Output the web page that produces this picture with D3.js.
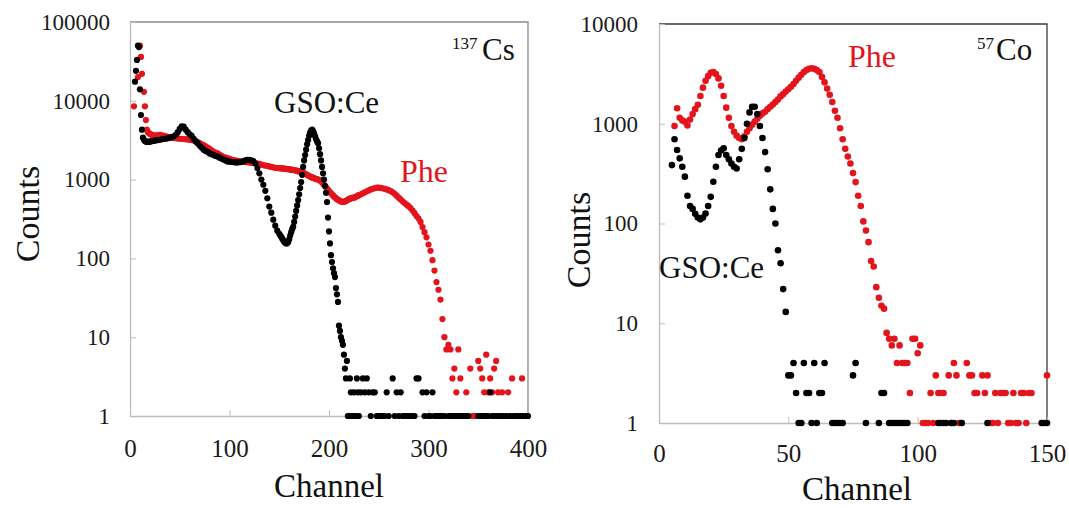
<!DOCTYPE html>
<html><head><meta charset="utf-8">
<script src="https://cdn.jsdelivr.net/npm/d3@7"></script>
<style>body{margin:0;background:#fff}svg{display:block}</style>
</head><body><svg width="1069" height="508"></svg>
<script>
// ---------- Left panel: 137Cs ----------
const csChannels = [4,5,6,7,8,9,10,11,12,13,14,15,16,17,18,19,20,21,
22,24,26,28,30,32,34,36,38,40,42,44,46,48,50,52,54,56,58,60,62,64,66,68,70,72,74,76,78,80,82,84,86,88,90,92,94,96,98,100,102,104,106,108,110,112,114,116,118,120,122,124,126,128,130,132,134,136,138,140,142,144,146,148,
150,151,152,153,154,155,156,157,158,159,160,161,162,163,164,165,166,167,168,169,170,171,172,173,174,175,176,177,178,179,180,181,182,183,184,185,186,187,188,189,190,191,192,193,194,195,196,197,198,199,200,201,202,203,204,205,206,207,208,209,210,211,212,213,214,215,216,217,218,219,220,221,222,223,224,225,226,227,228,229,230,
232,234,236,238,240,242,244,246,248,250,252,254,256,258,260,262,264,266,268,270,272,274,276,278,280,282,284,286,288,290,292,294,296,298,300,302,304,306,308,310,312,314,316,318,320,322,324,326,328,330,332,334,336,338,340,342,344,346,348,350,352,354,356,358,360,362,364,366,368,370,372,374,376,378,380,382,384,386,388,390,392,394,396,398,400];
const csGso = [0,17500,24000,33000,50000,48000,14000,6600,4300,3400,3200,3100,3050,3000,3000,3000,3050,3050,
3100,3100,3150,3170,3200,3250,3300,3300,3350,3400,3450,3550,3700,4000,4400,4750,4700,4300,4000,3750,3600,3300,3050,2900,2700,2550,2400,2300,2250,2150,2100,2050,2000,1960,1900,1850,1800,1750,1700,1690,1680,1670,1650,1650,1660,1680,1700,1750,1780,1780,1760,1720,1600,1400,1200,1000,860,720,580,455,380,310,260,225,
205,196,188,178,170,163,158,155,156,162,175,195,215,235,252,290,340,400,470,550,650,780,930,1150,1450,1750,2050,2400,2800,3170,3600,3950,4200,4300,4150,3850,3550,3250,3050,2900,2500,2100,1750,1450,1200,1000,830,680,520,330,220,155,110,90,75,65,58,42,35,28,14,12,10,9,8,6,4,3,5,1,1,3,2,1,1,2,1,1,3,2,1,
2,3,2,3,2,1,2,2,1,1,1,1,1,2,1,0,3,1,2,1,2,1,1,1,1,1,1,1,3,3,0,2,1,2,1,1,2,1,1,1,1,1,1,0,1,1,1,1,1,1,1,1,1,1,1,0,0,0,0,1,1,1,1,1,1,2,1,1,1,1,1,1,0,1,0,1,0,1,1,1,1,1,1,1,1];
const csPhe = [8500,0,0,0,20000,0,50000,36000,22000,0,13000,8500,5700,4300,4000,3900,3800,3750,
3700,3650,3650,3650,3700,3650,3600,3550,3500,3450,3400,3400,3350,3330,3300,3300,3280,3250,3230,3200,3170,3150,3100,3000,2900,2800,2750,2650,2550,2450,2350,2250,2200,2150,2080,2000,1950,1900,1870,1830,1800,1770,1750,1730,1710,1700,1690,1680,1660,1650,1640,1630,1620,1600,1580,1550,1530,1510,1490,1470,1450,1430,1410,1400,
1400,1395,1390,1385,1380,1375,1370,1365,1360,1355,1350,1345,1340,1330,1325,1320,1310,1300,1290,1280,1270,1260,1245,1230,1215,1200,1185,1170,1150,1130,1110,1095,1080,1065,1050,1040,1030,1020,1010,1000,990,975,950,920,890,860,830,800,770,740,715,690,670,650,630,610,595,580,565,555,545,535,528,522,520,522,528,535,545,555,565,572,578,582,585,590,598,606,615,625,635,
650,670,690,710,730,750,765,780,790,790,785,775,765,750,735,715,690,660,625,590,560,530,505,480,460,435,405,375,345,320,290,250,215,185,150,125,95,70,50,40,30,17,10,7,8,7,3,4,2,7,3,0,0,2,0,4,1,1,1,5,4,3,2,6,2,3,2,4,5,2,0,2,1,1,2,1,3,1,0,0,0,3,0,0,0];
const csXTicks = [0,100,200,300,400];
const csYTicks = [1,10,100,1000,10000,100000];

// ---------- Right panel: 57Co ----------
const coChannels = [5,6,7,8,9,10,11,12,13,14,15,16,17,18,19,20,21,22,23,24,25,26,27,28,29,30,31,32,33,34,35,36,37,38,39,40,41,42,43,44,45,46,47,48,49,50,51,52,53,54,55,56,57,58,59,60,61,62,63,64,65,66,67,68,69,70,71,72,73,74,75,76,77,78,79,80,81,82,83,84,85,86,87,88,89,90,91,92,93,94,95,96,97,98,99,100,101,102,103,104,105,106,107,108,109,110,111,112,113,114,115,116,117,118,119,120,121,122,123,124,125,126,127,128,129,130,131,132,133,134,135,136,137,138,139,140,141,142,143,144,145,146,147,148,149,150];
const coGso = [385,700,545,450,370,295,190,150,140,125,115,110,115,126,150,185,262,370,486,540,568,486,440,400,370,356,440,560,720,1000,1300,1480,1480,1250,950,720,520,350,220,140,100,54,40,22,13,3,3,4,2,1,1,4,2,2,1,4,1,2,2,4,0,0,1,1,1,1,1,0,0,0,3,4,0,0,0,1,0,0,0,0,1,2,2,0,1,1,1,1,1,1,1,1,0,0,0,0,0,0,0,0,0,0,0,1,1,1,1,0,1,1,0,0,1,0,0,0,0,0,0,0,0,0,1,0,0,0,0,0,0,0,0,0,0,0,0,0,0,0,0,0,0,0,0,1,1,1,1];
const coPhe = [0,950,1430,1150,1080,1050,960,1100,1250,1400,1550,1900,2300,2700,3000,3250,3300,3150,2850,2400,1900,1450,1150,950,830,760,720,700,750,830,900,980,1050,1120,1200,1270,1320,1400,1480,1560,1650,1750,1880,1980,2100,2220,2350,2500,2700,2900,3100,3300,3450,3550,3600,3550,3450,3300,2950,2600,2250,1950,1650,1350,1150,900,700,560,470,400,320,260,190,150,105,85,65,42,37,23,18,15,14,8,7,6,7,4,6,4,4,4,2,7,7,5,6,1,1,1,2,1,3,2,2,2,0,3,1,4,3,1,1,0,4,3,3,2,2,0,3,2,3,1,1,2,1,2,2,2,1,1,2,1,1,2,2,1,2,2,0,0,0,1,0,3];
const coXTicks = [0,50,100,150];
const coYTicks = [1,10,100,1000,10000];

const RED = "#e3141c", BLACK = "#000";
const FONT = "Liberation Serif, Times New Roman, serif";
const svg = d3.select("svg");

function panel(cfg) {
  const x = d3.scaleLinear().domain(cfg.xDomain).range(cfg.xRange);
  const y = d3.scaleLog().domain(cfg.yDomain).range(cfg.yRange);
  const g = svg.append("g");
  g.append("path")
    .attr("d", `M${cfg.xRange[0]},${cfg.yRange[1]}H${cfg.xRange[1]}V${cfg.yRange[0]}`)
    .attr("fill", "none").attr("stroke", cfg.frame).attr("stroke-width", 1.3);
  const ya = g.append("g").attr("transform", `translate(${cfg.xRange[0]},0)`)
    .call(d3.axisLeft(y).tickValues(cfg.yTicks).tickFormat(d3.format("d"))
      .tickSizeInner(-6).tickSizeOuter(0).tickPadding(cfg.yPad));
  const xa = g.append("g").attr("transform", `translate(0,${cfg.yRange[0]})`)
    .call(d3.axisBottom(x).tickValues(cfg.xTicks).tickFormat(d3.format("d"))
      .tickSizeInner(-6).tickSizeOuter(0).tickPadding(cfg.xPad));
  [ya, xa].forEach(a => {
    a.attr("font-family", FONT);
    a.select(".domain").attr("stroke", "#bdbdbd").attr("stroke-width", 1.3);
    a.selectAll(".tick line").attr("stroke", "#bdbdbd");
    a.selectAll(".tick text").attr("fill", "#1a1a1a").attr("font-family", FONT);
  });
  ya.attr("font-size", 23).selectAll(".tick text").attr("font-size", 23);
  xa.attr("font-size", 25).selectAll(".tick text").attr("font-size", 25);
  const pts = (vals) => cfg.channels.map((c, i) => ({c, v: vals[i]})).filter(d => d.v > 0);
  g.append("g").selectAll("circle").data(pts(cfg.phe)).join("circle")
    .attr("cx", d => x(d.c)).attr("cy", d => y(d.v)).attr("r", cfg.r).attr("fill", RED);
  g.append("g").selectAll("circle").data(pts(cfg.gso)).join("circle")
    .attr("cx", d => x(d.c)).attr("cy", d => y(d.v)).attr("r", cfg.r).attr("fill", BLACK);
}

panel({xDomain:[0,400], xRange:[130,528], yDomain:[1,100000], yRange:[416,22],
  xTicks: csXTicks, yTicks: csYTicks, channels: csChannels, gso: csGso, phe: csPhe,
  frame: "#8a8a8a", yPad: 20, xPad: 23, r: 3.1});
panel({xDomain:[0,150], xRange:[659,1047], yDomain:[1,10000], yRange:[423,24],
  xTicks: coXTicks, yTicks: coYTicks, channels: coChannels, gso: coGso, phe: coPhe,
  frame: "#3a3a3a", yPad: 21, xPad: 21, r: 3.3});

function label(txt, x, y, size, color, anchor, rot) {
  const t = svg.append("text").attr("x", x).attr("y", y).attr("font-size", size)
    .attr("font-family", FONT).attr("fill", color)
    .attr("text-anchor", anchor || "start").text(txt);
  if (rot) t.attr("transform", `rotate(${rot},${x},${y})`);
  return t;
}
label("Counts", 39, 214, 34, "#111", "middle", -90);
label("Channel", 329, 497, 33, "#111", "middle");
label("Counts", 590, 240, 34, "#111", "middle", -90);
label("Channel", 857, 500, 33, "#111", "middle");
label("137", 452, 49, 17, "#111");
label("Cs", 482, 60, 31, "#111");
label("GSO:Ce", 274, 113, 31, "#111");
label("Phe", 400, 182, 32, RED);
label("57", 977, 49, 17, "#111");
label("Co", 996, 60, 31, "#111");
label("Phe", 848, 67, 32, RED);
label("GSO:Ce", 659, 278, 31, "#111");
</script></body></html>
